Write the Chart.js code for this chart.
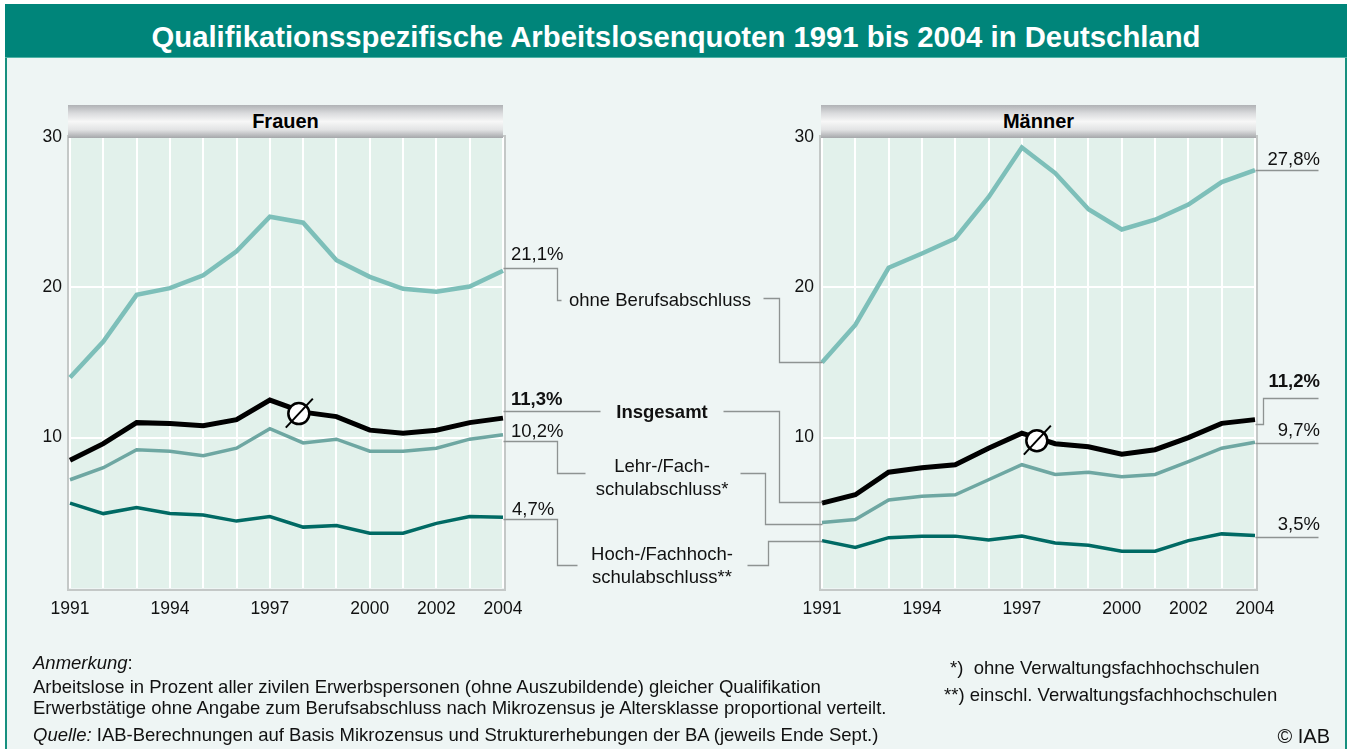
<!DOCTYPE html>
<html><head><meta charset="utf-8">
<script src="https://cdn.jsdelivr.net/npm/chart.js@4/dist/chart.umd.min.js"></script>
<style>
html,body{margin:0;padding:0;width:1347px;height:749px;overflow:hidden;background:#fff;font-family:"Liberation Sans",Arial,sans-serif;color:#111;}
#frame{position:absolute;left:5px;top:4px;width:1338px;height:760px;background:#eef5f4;border-left:2px solid #17907f;border-right:2px solid #17907f;}
#titlebar{position:absolute;left:5px;top:4px;width:1342px;height:53px;background:#00857a;border-bottom:1px solid #4fb3a6;}
#title{position:absolute;left:5px;width:1342px;top:21px;line-height:32px;text-align:center;color:#fff;font-weight:bold;font-size:29.3px;white-space:nowrap;}
canvas{position:absolute;left:0;top:0;}
.hdr{position:absolute;top:105px;height:33px;line-height:33px;text-align:center;font-weight:bold;font-size:20px;color:#000;
 background:linear-gradient(#b0b2b5 0%,#dadbdd 25%,#f7f7f7 50%,#e2e3e4 75%,#a5a7aa 100%);}
.lbl{position:absolute;white-space:nowrap;font-size:18.5px;line-height:23px;color:#111;}
.c{transform:translate(-50%,-50%);text-align:center;}
.l{transform:translate(0,-50%);}
.r{transform:translate(-100%,-50%);text-align:right;}
.b{font-weight:bold;}
.note{position:absolute;white-space:nowrap;font-size:18.5px;line-height:21px;color:#111;transform:translate(0,-50%);}
</style></head>
<body>
<div id="frame"></div>
<div id="titlebar"></div>
<div id="title">Qualifikationsspezifische Arbeitslosenquoten 1991 bis 2004 in Deutschland</div>
<canvas id="cF" width="1347" height="749"></canvas>
<canvas id="cM" width="1347" height="749"></canvas>
<div class="hdr" style="left:68px;width:435px;">Frauen</div>
<div class="hdr" style="left:821px;width:435px;">Männer</div>
<div id="labels"></div>
<div class="note" style="left:33px;top:662px;"><i>Anmerkung</i>:</div>
<div class="note" style="left:33px;top:686px;">Arbeitslose in Prozent aller zivilen Erwerbspersonen (ohne Auszubildende) gleicher Qualifikation</div>
<div class="note" style="left:33px;top:707px;">Erwerbstätige ohne Angabe zum Berufsabschluss nach Mikrozensus je Altersklasse proportional verteilt.</div>
<div class="note" style="left:33px;top:734px;"><i>Quelle:</i> IAB-Berechnungen auf Basis Mikrozensus und Strukturerhebungen der BA (jeweils Ende Sept.)</div>
<div class="note" style="left:950px;top:667px;">*)&nbsp; ohne Verwaltungsfachhochschulen</div>
<div class="note" style="left:944px;top:694px;">**) einschl. Verwaltungsfachhochschulen</div>
<div class="note" style="right:17px;top:736px;font-size:20px;line-height:22px;">© IAB</div>
<script>
const years = [1991,1992,1993,1994,1995,1996,1997,1998,1999,2000,2001,2002,2003,2004];
const xTickLabels = ['1991','1994','1997','2000','2002','2004'];
const yTickValues = [10,20,30];
const seriesNames = ['Insgesamt','ohne Berufsabschluss','Lehr-/Fach-\nschulabschluss*','Hoch-/Fachhoch-\nschulabschluss**'];

const frauenGesamt = [8.5,9.6,11.0,10.95,10.8,11.2,12.5,11.7,11.4,10.5,10.3,10.5,11.0,11.3];
const frauenOhne   = [14.0,16.4,19.5,19.95,20.8,22.4,24.7,24.3,21.8,20.7,19.9,19.7,20.05,21.1];
const frauenLehr   = [7.2,8.0,9.2,9.1,8.8,9.3,10.6,9.65,9.9,9.1,9.1,9.3,9.9,10.2];
const frauenHoch   = [5.65,4.95,5.35,4.95,4.85,4.45,4.75,4.05,4.15,3.65,3.65,4.3,4.75,4.7];

const maennerGesamt = [5.65,6.2,7.7,8.0,8.2,9.3,10.3,9.6,9.4,8.9,9.2,10.0,10.95,11.2];
const maennerOhne   = [15.0,17.5,21.3,22.25,23.25,26.0,29.3,27.6,25.2,23.85,24.5,25.5,27.0,27.8];
const maennerLehr   = [4.35,4.55,5.85,6.1,6.2,7.2,8.2,7.55,7.7,7.4,7.55,8.4,9.3,9.7];
const maennerHoch   = [3.15,2.7,3.35,3.45,3.45,3.2,3.45,3.0,2.85,2.45,2.45,3.15,3.6,3.5];

const frauenAvgMarker = [1997.87, 11.6];
const maennerAvgMarker = [1997.45, 9.8];

const FAM = '"Liberation Sans", Arial, sans-serif';
const colors = ['#000000','#7dbfb9','#6ea7a2','#006a64'];
const widths = [5,4.5,3.5,3.5];
function fmt(v){ return v.toFixed(1).replace('.',',')+'%'; }

const panelDeco = {
  id:'panelDeco',
  beforeDraw(chart){
    const {ctx, chartArea:a} = chart;
    ctx.save(); ctx.fillStyle='#e2f1eb';
    ctx.fillRect(a.left,a.top,a.right-a.left,a.bottom-a.top); ctx.restore();
  },
  beforeDatasetsDraw(chart){
    const {ctx, chartArea:a} = chart;
    ctx.save(); ctx.strokeStyle='#c4c8c7'; ctx.lineWidth=2;
    ctx.strokeRect(a.left-2,a.top-1,a.right-a.left+4,a.bottom-a.top+3); ctx.restore();
  },
  afterDatasetsDraw(chart, args, opts){
    if(!opts.marker) return;
    const ctx = chart.ctx;
    const cx = chart.scales.x.getPixelForValue(opts.marker[0]);
    const cy = chart.scales.y.getPixelForValue(opts.marker[1]);
    ctx.save();
    ctx.beginPath(); ctx.arc(cx,cy,10.5,0,Math.PI*2);
    ctx.fillStyle='#fff'; ctx.fill();
    ctx.lineWidth=2.5; ctx.strokeStyle='#000'; ctx.stroke();
    ctx.beginPath(); ctx.moveTo(cx-13,cy+14); ctx.lineTo(cx+14,cy-15);
    ctx.lineWidth=2; ctx.stroke();
    ctx.restore();
  }
};

let frChart = null;
const leaders = {
  id:'leaders',
  afterDraw(chart){
    if(!frChart) return;
    const ctx = chart.ctx;
    const fx0 = frChart.scales.x.getPixelForValue(2004);
    const mx0 = chart.scales.x.getPixelForValue(1991);
    const mx1 = chart.scales.x.getPixelForValue(2004);
    const lines = [
      [[fx0,268],[557,268],[557,300],[561,300]],
      [[fx0,411],[600,411]],
      [[fx0,441],[557,441],[557,473],[585,473]],
      [[fx0,519],[557,519],[557,565],[577,565]],
      [[763,298],[779,298],[779,362],[mx0,362]],
      [[723,411],[779,411],[779,502],[mx0,502]],
      [[740,473],[765,473],[765,524],[mx0,524]],
      [[747,565],[768,565],[768,541],[mx0,541]],
      [[mx1,170],[1318,170]],
      [[mx1,424],[1263,424],[1263,398],[1318,398]],
      [[mx1,443],[1318,443]],
      [[mx1,537],[1318,537]]
    ];
    ctx.save();
    ctx.strokeStyle='#8e9392'; ctx.lineWidth=1.3;
    lines.forEach(pts=>{
      ctx.beginPath();
      pts.forEach((p,i)=>{ const x=Math.round(p[0])+0.5, y=Math.round(p[1])+0.5; i?ctx.lineTo(x,y):ctx.moveTo(x,y); });
      ctx.stroke();
    });
    ctx.restore();
  }
};

function makePanel(id, series, padding, marker, extraPlugins){
  return new Chart(document.getElementById(id), {
    type:'line',
    data:{ datasets: series.map((vals,i)=>({
      label: seriesNames[i],
      data: years.map((yr,j)=>({x:yr,y:vals[j]})),
      borderColor: colors[i], borderWidth: widths[i],
      pointRadius:0, tension:0, fill:false, clip:8,
      borderJoinStyle:'miter'
    }))},
    options:{
      responsive:false, animation:false, events:[],
      layout:{padding},
      plugins:{legend:{display:false}, tooltip:{enabled:false}, panelDeco:{marker}},
      scales:{
        x:{type:'linear', min:1991, max:2004,
          afterBuildTicks(s){ s.ticks = years.map(v=>({value:v})); },
          afterFit(s){ s.height = 40; },
          ticks:{autoSkip:false, maxRotation:0, padding:11, color:'#111', font:{family:FAM,size:17.5},
            callback:(v)=> xTickLabels.includes(String(v)) ? String(v) : ''},
          grid:{color:'#ffffff', lineWidth:2, drawTicks:false},
          border:{display:false}
        },
        y:{min:0, max:30,
          afterBuildTicks(s){ s.ticks = yTickValues.map(v=>({value:v})); },
          afterFit(s){ s.width = 40; },
          ticks:{padding:8, color:'#111', font:{family:FAM,size:17.5}},
          grid:{color:(c)=> (c.tick && c.tick.value<30) ? '#ffffff' : 'rgba(0,0,0,0)', lineWidth:2, drawTicks:false},
          border:{display:false}
        }
      }
    },
    plugins:[panelDeco].concat(extraPlugins||[])
  });
}

frChart = makePanel('cF', [frauenGesamt,frauenOhne,frauenLehr,frauenHoch], {left:30,right:844,top:137,bottom:121}, frauenAvgMarker);
const mChart = makePanel('cM', [maennerGesamt,maennerOhne,maennerLehr,maennerHoch], {left:782,right:92,top:137,bottom:121}, maennerAvgMarker, [leaders]);

const L = document.getElementById('labels');
function addLabel(text, x, y, cls){
  const d = document.createElement('div');
  d.className = 'lbl ' + cls;
  d.style.left = x+'px'; d.style.top = y+'px';
  d.innerHTML = text.split('\n').join('<br>');
  L.appendChild(d);
}
const last = a => a[a.length-1];
addLabel(fmt(last(frauenOhne)), 511, 253, 'l');
addLabel(fmt(last(frauenGesamt)), 511, 398, 'l b');
addLabel(fmt(last(frauenLehr)), 511, 430, 'l');
addLabel(fmt(last(frauenHoch)), 512, 508, 'l');
addLabel(seriesNames[1], 660, 299, 'c');
addLabel(seriesNames[0], 662, 411, 'c b');
addLabel(seriesNames[2], 662, 476.5, 'c');
addLabel(seriesNames[3], 662, 565, 'c');
addLabel(fmt(last(maennerOhne)), 1320, 158, 'r');
addLabel(fmt(last(maennerGesamt)), 1320, 380, 'r b');
addLabel(fmt(last(maennerLehr)), 1320, 429, 'r');
addLabel(fmt(last(maennerHoch)), 1320, 523, 'r');
</script>
</body></html>
